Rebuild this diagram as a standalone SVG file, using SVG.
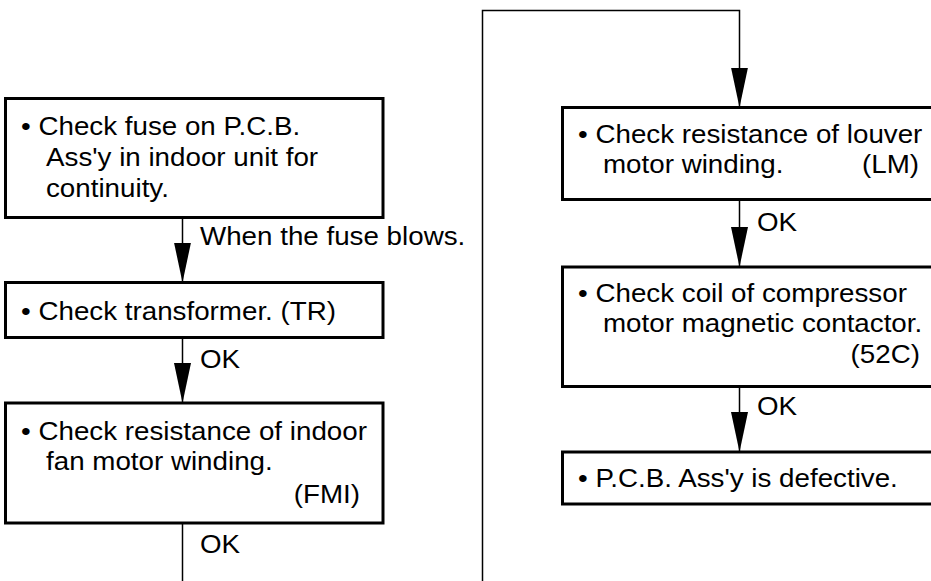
<svg xmlns="http://www.w3.org/2000/svg" width="931" height="581" viewBox="0 0 931 581">
  <style>
    .box { fill: #ffffff; stroke: #000000; stroke-width: 3; }
    .wire { fill: none; stroke: #000000; stroke-width: 1.5; }
    text { font-family: "Liberation Sans", Arial, sans-serif; font-size: 25px; fill: #000000; }
    .end { text-anchor: end; }
  </style>
  <defs>
    <marker id="arrow" viewBox="0 0 40 17" refX="40" refY="8.5" markerWidth="40" markerHeight="17" markerUnits="userSpaceOnUse" orient="auto">
      <path d="M0,0 L40,8.5 L0,17 Z" fill="#000000"/>
    </marker>
  </defs>

  <rect width="931" height="581" fill="#ffffff"/>

  <!-- connectors -->
  <g id="connectors">
    <path class="wire" d="M182.5,217.5 V282.5" marker-end="url(#arrow)"/>
    <path class="wire" d="M182.5,337.5 V403" marker-end="url(#arrow)"/>
    <path class="wire" d="M182.5,523 V581"/>
    <path class="wire" d="M482.5,581 V10.5 H739.5 V107.5" marker-end="url(#arrow)"/>
    <path class="wire" d="M739.5,199.5 V267" marker-end="url(#arrow)"/>
    <path class="wire" d="M739.5,386.5 V452" marker-end="url(#arrow)"/>
    <text transform="translate(200 245) scale(1.11 1)">When the fuse blows.</text>
    <text transform="translate(200 368) scale(1.11 1)">OK</text>
    <text transform="translate(200 553) scale(1.11 1)">OK</text>
    <text transform="translate(757 231) scale(1.11 1)">OK</text>
    <text transform="translate(757 415) scale(1.11 1)">OK</text>
  </g>

  <!-- left column -->
  <g id="fuse">
    <rect class="box" x="5.5" y="98.5" width="377.5" height="119"/>
    <text transform="translate(21 135) scale(1.11 1)">• Check fuse on P.C.B.</text>
    <text transform="translate(46 166) scale(1.11 1)">Ass'y in indoor unit for</text>
    <text transform="translate(46 197) scale(1.11 1)">continuity.</text>
  </g>
  <g id="transformer">
    <rect class="box" x="5.5" y="282.5" width="377.5" height="55"/>
    <text transform="translate(21 320) scale(1.11 1)">• Check transformer. (TR)</text>
  </g>
  <g id="fan-motor">
    <rect class="box" x="5.5" y="403" width="377.5" height="120"/>
    <text transform="translate(21 440) scale(1.11 1)">• Check resistance of indoor</text>
    <text transform="translate(46 470) scale(1.11 1)">fan motor winding.</text>
    <text class="end" transform="translate(360 503) scale(1.11 1)">(FMI)</text>
  </g>

  <!-- right column -->
  <g id="louver-motor">
    <rect class="box" x="562.5" y="107.5" width="380" height="92"/>
    <text transform="translate(578 143) scale(1.11 1)">• Check resistance of louver</text>
    <text transform="translate(603 173) scale(1.11 1)">motor winding.</text>
    <text class="end" transform="translate(919 173) scale(1.11 1)">(LM)</text>
  </g>
  <g id="contactor">
    <rect class="box" x="562.5" y="267" width="380" height="119.5"/>
    <text transform="translate(578 302) scale(1.11 1)">• Check coil of compressor</text>
    <text transform="translate(603 332) scale(1.11 1)">motor magnetic contactor.</text>
    <text class="end" transform="translate(920 363) scale(1.11 1)">(52C)</text>
  </g>
  <g id="pcb">
    <rect class="box" x="562.5" y="452" width="380" height="52"/>
    <text transform="translate(578 487) scale(1.11 1)">• P.C.B. Ass'y is defective.</text>
  </g>
</svg>
